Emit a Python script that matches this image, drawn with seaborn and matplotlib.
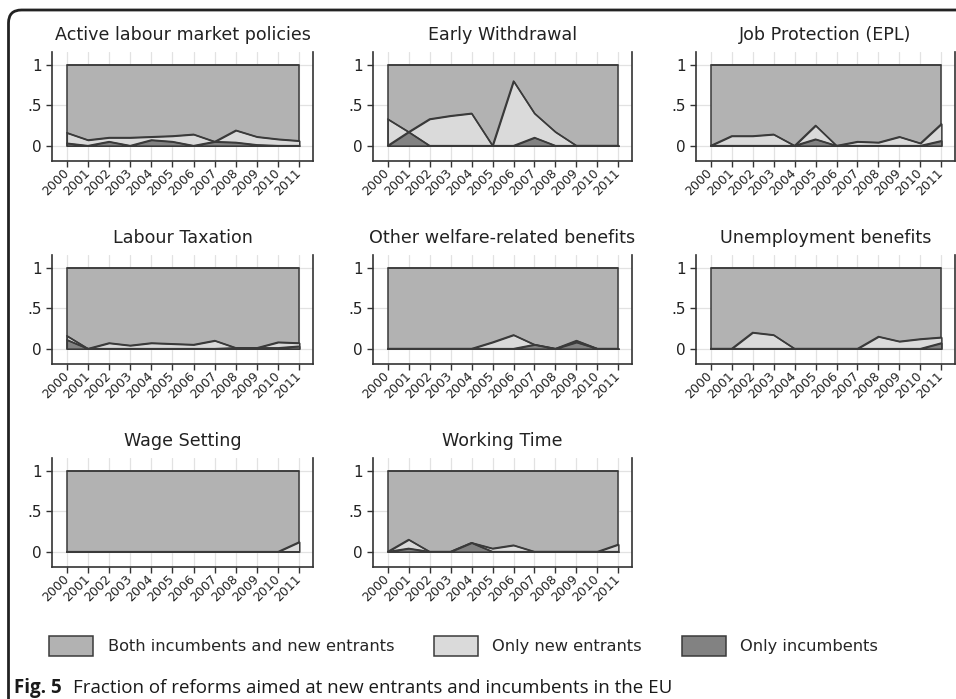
import numpy as np
import pandas as pd
import matplotlib
matplotlib.use("Agg")
import matplotlib.pyplot as plt
import seaborn as sns
from matplotlib.patches import Patch, FancyBboxPatch

years = list(range(2000, 2012))

titles = ["Active labour market policies", "Early Withdrawal", "Job Protection (EPL)",
          "Labour Taxation", "Other welfare-related benefits", "Unemployment benefits",
          "Wage Setting", "Working Time"]

# share of reforms aimed only at incumbents / only at new entrants (rest = both)
inc_almp = [0.03, 0.00, 0.05, 0.00, 0.07, 0.05, 0.00, 0.05, 0.04, 0.01, 0.00, 0.00]
new_almp = [0.13, 0.07, 0.05, 0.10, 0.04, 0.07, 0.14, 0.00, 0.15, 0.10, 0.08, 0.06]

inc_early = [0.00, 0.17, 0.00, 0.00, 0.00, 0.00, 0.00, 0.10, 0.00, 0.00, 0.00, 0.00]
new_early = [0.33, 0.00, 0.33, 0.37, 0.40, 0.00, 0.80, 0.30, 0.17, 0.00, 0.00, 0.00]

inc_epl = [0.00, 0.00, 0.00, 0.00, 0.00, 0.08, 0.00, 0.00, 0.00, 0.00, 0.00, 0.06]
new_epl = [0.00, 0.12, 0.12, 0.14, 0.00, 0.17, 0.00, 0.05, 0.04, 0.11, 0.03, 0.21]

inc_tax = [0.11, 0.00, 0.00, 0.00, 0.00, 0.00, 0.00, 0.00, 0.01, 0.01, 0.01, 0.03]
new_tax = [0.05, 0.00, 0.07, 0.04, 0.07, 0.06, 0.05, 0.10, 0.00, 0.00, 0.07, 0.04]

inc_welf = [0.00, 0.00, 0.00, 0.00, 0.00, 0.00, 0.00, 0.05, 0.00, 0.08, 0.00, 0.00]
new_welf = [0.00, 0.00, 0.00, 0.00, 0.00, 0.08, 0.17, 0.00, 0.00, 0.02, 0.00, 0.00]

inc_unemp = [0.00, 0.00, 0.00, 0.00, 0.00, 0.00, 0.00, 0.00, 0.00, 0.00, 0.00, 0.07]
new_unemp = [0.00, 0.00, 0.20, 0.17, 0.00, 0.00, 0.00, 0.00, 0.15, 0.09, 0.12, 0.07]

inc_wage = [0.00] * 12
new_wage = [0.00, 0.00, 0.00, 0.00, 0.00, 0.00, 0.00, 0.00, 0.00, 0.00, 0.00, 0.12]

inc_time = [0.00, 0.04, 0.00, 0.00, 0.11, 0.00, 0.00, 0.00, 0.00, 0.00, 0.00, 0.00]
new_time = [0.00, 0.11, 0.00, 0.00, 0.00, 0.04, 0.08, 0.00, 0.00, 0.00, 0.00, 0.09]

inc_list = [inc_almp, inc_early, inc_epl, inc_tax, inc_welf, inc_unemp, inc_wage, inc_time]
new_list = [new_almp, new_early, new_epl, new_tax, new_welf, new_unemp, new_wage, new_time]

legend_labels = ["Both incumbents and new entrants", "Only new entrants", "Only incumbents"]

c_both = "#b2b2b2"
c_new = "#dadada"
c_inc = "#828282"
c_edge = "#3a3a3a"

sns.set_theme(style="whitegrid")
plt.rcParams["font.family"] = ["DejaVu Sans"]

W, H = 956, 699
fig = plt.figure(figsize=(W / 100, H / 100), dpi=100)
fig.patch.set_facecolor("white")

col_left = [52, 373, 696]
col_width = [261, 259, 259]
row_top = [52, 255, 458]
ax_h = 109

for i, title in enumerate(titles):
    r, c = divmod(i, 3)
    rect = [col_left[c] / W, 1 - (row_top[r] + ax_h) / H, col_width[c] / W, ax_h / H]
    ax = fig.add_axes(rect)

    df = pd.DataFrame({"year": years, "inc": inc_list[i], "new": new_list[i]})
    df["both"] = 1 - df["inc"] - df["new"]
    df["lvl_new"] = df["inc"] + df["new"]
    df["lvl_both"] = df["lvl_new"] + df["both"]

    for col, fc in [("lvl_both", c_both), ("lvl_new", c_new), ("inc", c_inc)]:
        ax.fill_between(df["year"], 0, df[col], facecolor=fc, edgecolor=c_edge,
                        linewidth=1.1, zorder=2)
        sns.lineplot(data=df, x="year", y=col, color=c_edge, linewidth=1.1, ax=ax, zorder=3)

    ax.set_xlim(1999.3, 2011.65)
    ax.set_ylim(-0.19, 1.16)
    ax.set_xticks(years)
    ax.set_xticklabels([str(y) for y in years], rotation=45, ha="right", va="center",
                       rotation_mode="anchor", fontsize=9)
    ax.set_yticks([0, 0.5, 1])
    ax.set_yticklabels(["0", ".5", "1"], fontsize=11)
    ax.set_xlabel("")
    ax.set_ylabel("")
    ax.set_title(title, fontsize=12.6, pad=8.5, color="#222222")

    ax.set_facecolor("white")
    ax.grid(True, color="#e2e2e2", linewidth=0.9)
    ax.set_axisbelow(True)
    for side in ["left", "bottom", "right"]:
        ax.spines[side].set_visible(True)
        ax.spines[side].set_color("#333333")
        ax.spines[side].set_linewidth(1.2)
    ax.spines["top"].set_visible(False)
    ax.tick_params(axis="both", which="both", direction="out", length=4.5, width=1.0,
                   color="#333333", labelcolor="#222222", bottom=True, left=True)
    ax.tick_params(axis="x", pad=3)
    ax.tick_params(axis="y", pad=3)

handles = [Patch(facecolor=fc, edgecolor=c_edge, linewidth=1.1) for fc in (c_both, c_new, c_inc)]
fig.legend(handles=handles, labels=legend_labels, ncol=3, frameon=False,
           loc="center left", bbox_to_anchor=(49 / W, 1 - 646 / H),
           fontsize=11.7, handlelength=2.7, handleheight=1.45, handletextpad=0.9,
           columnspacing=2.45, borderpad=0, borderaxespad=0)

fig.text(14 / W, 1 - 693 / H, "Fig. 5", fontsize=13.5, fontweight="bold",
         family=["Open Sans", "DejaVu Sans"], va="baseline", ha="left", color="#1a1a1a")
fig.text(73 / W, 1 - 693 / H,
         "Fraction of reforms aimed at new entrants and incumbents in the EU",
         fontsize=13.5, family=["Open Sans", "DejaVu Sans"], va="baseline", ha="left",
         color="#1a1a1a")

frame = FancyBboxPatch((0.085, -1.0), 11.0, 6.89 + 1.0,
                       boxstyle="round,pad=0,rounding_size=0.13",
                       transform=fig.dpi_scale_trans, facecolor="none",
                       edgecolor="#222222", linewidth=2.0)
fig.add_artist(frame)

fig.savefig("out.png", dpi=100)
